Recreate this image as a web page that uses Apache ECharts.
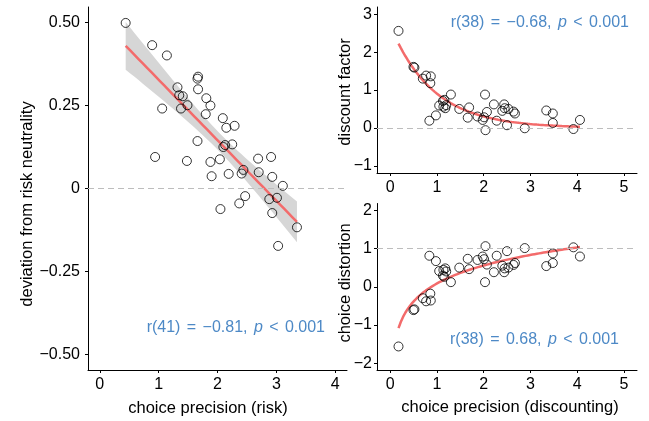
<!DOCTYPE html>
<html>
<head>
<meta charset="utf-8">
<script src="https://cdn.jsdelivr.net/npm/echarts@6/dist/echarts.min.js"></script>
<style>
  html, body { margin: 0; padding: 0; background: #fff; }
  #chart { width: 649px; height: 421px; }
</style>
</head>
<body>
<div id="chart"></div>
<script>
// risk panel
const riskX = [0.44, 0.89, 1.14, 1.67, 1.66, 1.32, 1.67, 1.35, 1.41, 1.81, 1.88, 1.49, 1.38, 1.06,
  1.80, 2.09, 2.15, 2.29, 1.66, 2.13, 2.10, 2.25, 0.94, 1.48, 1.88, 2.04, 1.90, 2.19, 2.44, 2.41,
  2.69, 2.91, 2.70, 2.93, 3.11, 2.47, 2.37, 2.05, 2.88, 3.01, 2.93, 3.35, 3.03]
const riskY = [0.499, 0.432, 0.401, 0.337, 0.331, 0.305, 0.299, 0.281, 0.278, 0.272, 0.250, 0.251, 0.241, 0.241,
  0.224, 0.212, 0.183, 0.189, 0.143, 0.131, 0.125, 0.133, 0.095, 0.083, 0.080, 0.088, 0.037, 0.044, 0.056, 0.045,
  0.090, 0.095, 0.049, 0.035, 0.008, -0.023, -0.045, -0.062, -0.032, -0.028, -0.074, -0.117, -0.173]

// discounting panels
const discX = [0.18, 0.50, 0.52, 0.70, 0.77, 0.87, 0.86, 0.84, 0.98, 1.05, 1.13, 1.16, 1.14, 1.18, 1.20,
  1.30, 1.48, 1.69, 1.66, 1.87, 1.98, 2.01, 2.03, 2.07, 2.04, 2.22, 2.28, 2.40, 2.44, 2.45,
  2.53, 2.50, 2.64, 2.67, 2.88, 3.34, 3.48, 3.48, 3.92, 4.06]
const discFactor = [2.56, 1.61, 1.59, 1.30, 1.38, 1.36, 1.18, 0.19, 0.33, 0.59, 0.71, 0.74, 0.56, 0.52, 0.60,
  0.88, 0.50, 0.54, 0.27, 0.30, 0.21, 0.28, 0.88, 0.42, -0.06, 0.62, 0.19, 0.45, 0.62, 0.52,
  0.50, 0.07, 0.43, 0.38, -0.01, 0.46, 0.38, 0.13, -0.03, 0.21]
const discDistortion = [-1.56, -0.61, -0.59, -0.30, -0.38, -0.36, -0.18, 0.81, 0.67, 0.41, 0.29, 0.26, 0.44, 0.48, 0.40,
  0.12, 0.50, 0.46, 0.73, 0.70, 0.79, 0.72, 0.12, 0.58, 1.06, 0.38, 0.81, 0.55, 0.38, 0.48,
  0.50, 0.93, 0.57, 0.62, 1.01, 0.54, 0.62, 0.87, 1.03, 0.79]

const riskXTicks = [0, 1, 2, 3, 4]
const riskYTicks = [-0.5, -0.25, 0, 0.25, 0.5]
const discXTicks = [0, 1, 2, 3, 4, 5]
const factorYTicks = [-1, 0, 1, 2, 3]
const distortionYTicks = [-2, -1, 0, 1, 2]

const FONT = '"Liberation Sans", Arial, Helvetica, sans-serif'
const RED = '#f36b6b'
const BLUE = '#4d89c6'

// linear fit + 95% band for the risk panel
function linearFit (xs, ys) {
  const n = xs.length
  const mx = xs.reduce((a, b) => a + b, 0) / n
  const my = ys.reduce((a, b) => a + b, 0) / n
  let sxx = 0, sxy = 0
  for (let i = 0; i < n; i++) { sxx += (xs[i] - mx) ** 2; sxy += (xs[i] - mx) * (ys[i] - my) }
  const b = sxy / sxx
  const a = my - b * mx
  let sse = 0
  for (let i = 0; i < n; i++) sse += (ys[i] - a - b * xs[i]) ** 2
  const s = Math.sqrt(sse / (n - 2))
  return { a, b, s, n, mx, sxx }
}
const fit = linearFit(riskX, riskY)
const xLo = Math.min(...riskX), xHi = Math.max(...riskX)
const lineData = [], bandUp = [], bandLo = []
for (let i = 0; i <= 40; i++) {
  const x = xLo + (xHi - xLo) * i / 40
  const y = fit.a + fit.b * x
  const se = fit.s * Math.sqrt(1 / fit.n + (x - fit.mx) ** 2 / fit.sxx)
  lineData.push([x, y])
  bandUp.push([x, y + 2.02 * se])
  bandLo.push([x, y - 2.02 * se])
}

// log fit for distortion (OLS on ln x)
const lfit = linearFit(discX.map(Math.log), discDistortion)
// exponential fit for discount factor: grid search on rate
let best = { a: 0, k: 0, sse: Infinity }
for (let k = 0.2; k <= 3; k += 0.005) {
  let se = 0, ee = 0
  discX.forEach((x, i) => { const e = Math.exp(-k * x); se += discFactor[i] * e; ee += e * e })
  const a = se / ee
  let sse = 0
  discX.forEach((x, i) => { sse += (discFactor[i] - a * Math.exp(-k * x)) ** 2 })
  if (sse < best.sse) best = { a, k, sse }
}
const dLo = Math.min(...discX), dHi = Math.max(...discX)
const factorCurve = [], distortionCurve = []
for (let i = 0; i <= 80; i++) {
  const x = dLo + (dHi - dLo) * i / 80
  factorCurve.push([x, best.a * Math.exp(-best.k * x)])
  distortionCurve.push([x, lfit.a + lfit.b * Math.log(x)])
}

function fmt (v, digits) {
  if (v === 0) return '0'
  return (v < 0 ? '\u2212' : '') + Math.abs(v).toFixed(digits)
}

function xAxis (gridIndex, min, max, ticks) {
  return {
    type: 'value', gridIndex, min, max,
    axisLine: { show: true, onZero: false, lineStyle: { color: '#000', width: 1 } },
    axisTick: { show: true, length: 3, customValues: ticks, lineStyle: { color: '#000' } },
    axisLabel: { customValues: ticks, fontSize: 16, color: '#000', margin: 7, fontFamily: FONT },
    splitLine: { show: false }
  }
}
function yAxis (gridIndex, min, max, ticks, digits, margin) {
  return {
    type: 'value', gridIndex, min, max,
    axisLine: { show: true, onZero: false, lineStyle: { color: '#000', width: 1 } },
    axisTick: { show: true, length: 3, customValues: ticks, lineStyle: { color: '#000' } },
    axisLabel: { customValues: ticks, fontSize: 16, color: '#000', margin, fontFamily: FONT,
      formatter: v => fmt(v, digits) },
    splitLine: { show: false }
  }
}
function dashed (value) {
  return {
    silent: true, symbol: 'none', label: { show: false },
    lineStyle: { type: [6, 4], color: '#bdbdbd', width: 1 },
    data: [{ yAxis: value }]
  }
}
function scatter (idx, xs, ys, refValue) {
  return {
    type: 'scatter', xAxisIndex: idx, yAxisIndex: idx,
    data: xs.map((x, i) => [x, ys[i]]),
    symbol: 'circle', symbolSize: 9,
    itemStyle: { color: 'rgba(0,0,0,0)', borderColor: '#000', borderWidth: 1 },
    markLine: dashed(refValue), z: 3
  }
}
function curve (idx, data) {
  return {
    type: 'line', xAxisIndex: idx, yAxisIndex: idx, data, showSymbol: false,
    lineStyle: { color: RED, width: 2.5 }, z: 2
  }
}
function label (x, y, text, rotate) {
  return {
    type: 'text', x, y, rotation: rotate ? Math.PI / 2 : 0,
    style: { text, fill: '#000', font: '16.5px ' + FONT, align: 'center', verticalAlign: 'middle' }
  }
}
// spaces get a slightly wider token, like the plotmath spacing in the original
function spaced (s) {
  return s.split(' ').map(w => w ? '{n|' + w + '}' : '').join('{s| }')
}
function stat (x, y, head, tail) {
  return {
    type: 'text', x, y,
    style: {
      text: spaced(head) + '{i|p}' + spaced(tail),
      align: 'right', verticalAlign: 'middle',
      rich: {
        n: { fill: BLUE, fontSize: 16, fontFamily: FONT },
        s: { fill: BLUE, fontSize: 16, fontFamily: FONT, width: 6.4 },
        i: { fill: BLUE, fontSize: 16, fontFamily: FONT, fontStyle: 'italic' }
      }
    }
  }
}

const myChart = echarts.init(document.getElementById('chart'))
myChart.setOption({
  animation: false,
  grid: [
    { left: 88, top: 7, width: 259, height: 363 },
    { left: 377, top: 7, width: 260, height: 166 },
    { left: 377, top: 203.5, width: 260, height: 166.5 }
  ],
  xAxis: [
    xAxis(0, -0.2, 4.2, riskXTicks),
    xAxis(1, -0.28, 5.28, discXTicks),
    xAxis(2, -0.28, 5.28, discXTicks)
  ],
  yAxis: [
    yAxis(0, -0.547, 0.547, riskYTicks, 2, 8),
    yAxis(1, -1.19, 3.19, factorYTicks, 0, 5),
    yAxis(2, -2.175, 2.175, distortionYTicks, 0, 5)
  ],
  series: [
    {
      type: 'custom', xAxisIndex: 0, yAxisIndex: 0, data: [[0, 0]], z: 1, silent: true,
      renderItem (params, api) {
        const pts = bandUp.map(p => api.coord(p)).concat(bandLo.slice().reverse().map(p => api.coord(p)))
        return { type: 'polygon', shape: { points: pts }, style: { fill: '#d6d6d6' } }
      }
    },
    curve(0, lineData),
    scatter(0, riskX, riskY, 0),
    curve(1, factorCurve),
    scatter(1, discX, discFactor, 0),
    curve(2, distortionCurve),
    scatter(2, discX, discDistortion, 1)
  ],
  graphic: [
    label(27, 204, 'deviation from risk neutrality', true),
    label(208, 408, 'choice precision (risk)'),
    label(345, 92, 'discount factor', true),
    label(345, 283, 'choice distortion', true),
    label(510, 407, 'choice precision (discounting)'),
    stat(325, 328, 'r(41) = \u22120.81, ', ' < 0.001'),
    stat(629, 23, 'r(38) = \u22120.68, ', ' < 0.001'),
    stat(619, 340, 'r(38) = 0.68, ', ' < 0.001')
  ]
})
</script>
</body>
</html>
